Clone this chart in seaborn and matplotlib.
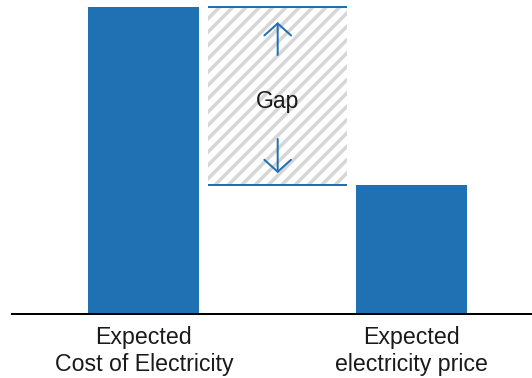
import matplotlib
matplotlib.use("Agg")
import matplotlib.pyplot as plt
import seaborn as sns
import pandas as pd

# ---- data ----
categories = ["Expected\nCost of Electricity", "Expected\nelectricity price"]
values = [100, 42]
gap_label = "Gap"

BLUE = "#2070b4"
HATCH_GRAY = "#d6d6d6"
TEXT = "#1a1a1a"

sns.set_theme(style="white")
plt.rcParams["font.family"] = ["Liberation Sans", "DejaVu Sans"]
plt.rcParams["hatch.linewidth"] = 2.1

DPI = 120
fig = plt.figure(figsize=(532 / DPI, 378 / DPI), dpi=DPI)
ax = fig.add_axes([12 / 532, 64 / 378, 520 / 532, 314 / 378])

df = pd.DataFrame({"item": categories, "value": values})
order = [categories[0], " ", categories[1]]
sns.barplot(data=df, x="item", y="value", order=order, color=BLUE,
            saturation=1, width=0.831, ax=ax, linewidth=0)

# gap region between the two bars
top, bottom = values[0], values[1]
gap_w = 1.034
ax.bar(1, top - bottom, bottom=bottom, width=gap_w, facecolor="white",
       edgecolor=HATCH_GRAY, linewidth=0, hatch="///", zorder=1)
ax.hlines([top, bottom], 1 - gap_w / 2, 1 + gap_w / 2, color=BLUE,
          linewidth=1.2, zorder=3)

arrow_kw = dict(arrowstyle="->,head_length=0.45,head_width=0.5", color=BLUE,
                lw=1.2, mutation_scale=16, shrinkA=0, shrinkB=0)
ax.annotate("", xy=(1, top - 4.9), xytext=(1, top - 15.6), arrowprops=arrow_kw)
ax.annotate("", xy=(1, bottom + 3.9), xytext=(1, bottom + 15.0), arrowprops=arrow_kw)
ax.text(1, (top + bottom) / 2 - 3.9, gap_label, ha="center", va="baseline",
        fontsize=13.8, color=TEXT)

ax.set_xlim(-0.985, 2.9)
ax.set_ylim(0, 102.3)
ax.set_xlabel("")
ax.set_ylabel("")
ax.set_yticks([])
ax.set_xticks([0, 2])
ax.set_xticklabels(categories, fontsize=13.9, color=TEXT, linespacing=1.25)
ax.tick_params(axis="x", length=0, pad=7.0)
for s in ["top", "left", "right"]:
    ax.spines[s].set_visible(False)
ax.spines["bottom"].set_color("black")
ax.spines["bottom"].set_linewidth(1.2)
ax.patch.set_alpha(0)

fig.savefig("out.png", dpi=DPI)
